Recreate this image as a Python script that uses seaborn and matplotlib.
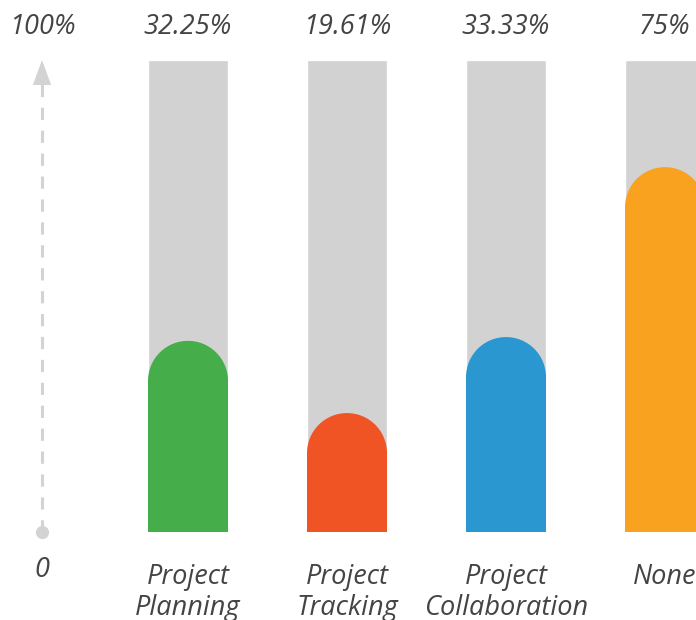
import matplotlib
matplotlib.use("Agg")
import matplotlib.pyplot as plt
import seaborn as sns
import pandas as pd
from matplotlib.patches import Ellipse

categories = ["Project\nPlanning", "Project\nTracking", "Project\nCollaboration", "None"]
value_labels = ["32.25%", "19.61%", "33.33%", "75%"]
# filled height (top of the rounded cap) as a fraction of the full track
fill = [0.405, 0.252, 0.413, 0.773]
colors = ["#45ad4a", "#f05424", "#2a97d0", "#f9a21f"]
axis_top_label = "100%"
axis_bottom_label = "0"

sns.set_theme(style="white")
plt.rcParams["font.family"] = ["Open Sans", "DejaVu Sans"]

W, H = 696, 620
fig = plt.figure(figsize=(W / 100, H / 100), dpi=100)
# plot area: track bottom at px 532, top at px 60
ax = fig.add_axes([0, (H - 532) / H, 1, 472 / H])

df = pd.DataFrame({"cat": categories, "full": [1.0] * 4})
bar_w = 80 / 159
sns.barplot(data=df, x="cat", y="full", color="#d2d2d2", width=bar_w,
            saturation=1, ax=ax, order=categories)

px_per_x = 159
xlim = (-188 / px_per_x, (696 - 188) / px_per_x)
ax.set_xlim(*xlim)
ax.set_ylim(0, 1)

# radius of the cap in data-y units (40 px)
r_y = 40 / 472
for i, (f, c) in enumerate(zip(fill, colors)):
    ax.bar(i, f - r_y, width=bar_w, color=c, linewidth=0, zorder=3)
    ax.add_patch(Ellipse((i, f - r_y), width=bar_w, height=2 * r_y,
                         facecolor=c, edgecolor="none", zorder=3))

text_color = "#444444"
fs = 19.5
for i, lab in enumerate(value_labels):
    ax.text(i, (532 - 27) / 472, lab, ha="center", va="center", fontsize=fs,
            style="italic", color=text_color, transform=ax.transData, clip_on=False)
for i, lab in enumerate(categories):
    ax.text(i, (532 - 563) / 472, lab, ha="center", va="top", fontsize=fs,
            style="italic", color=text_color, linespacing=1.12, clip_on=False)

# dashed vertical axis with arrow
ax_x = (42 - 188) / px_per_x
ax.plot([ax_x, ax_x], [0, (532 - 80) / 472], color="#d3d3d3", lw=2.2,
        dashes=(4, 3.5), solid_capstyle="butt", clip_on=False, zorder=2)
ax.annotate("", xy=(ax_x, (532 - 60) / 472), xytext=(ax_x, (532 - 84) / 472),
            arrowprops=dict(arrowstyle="-|>,head_length=1.5,head_width=0.55",
                            color="#d3d3d3", lw=0, shrinkA=0, shrinkB=0),
            annotation_clip=False)
ax.scatter([ax_x], [0], s=90, color="#d3d3d3", zorder=4, clip_on=False, linewidths=0)
ax.text(ax_x, (532 - 27) / 472, axis_top_label, ha="center", va="center",
        fontsize=fs, style="italic", color=text_color, clip_on=False)
ax.text(ax_x, (532 - 570) / 472, axis_bottom_label, ha="center", va="center",
        fontsize=fs, style="italic", color=text_color, clip_on=False)

ax.set_axis_off()
fig.savefig("out.png", dpi=100)
